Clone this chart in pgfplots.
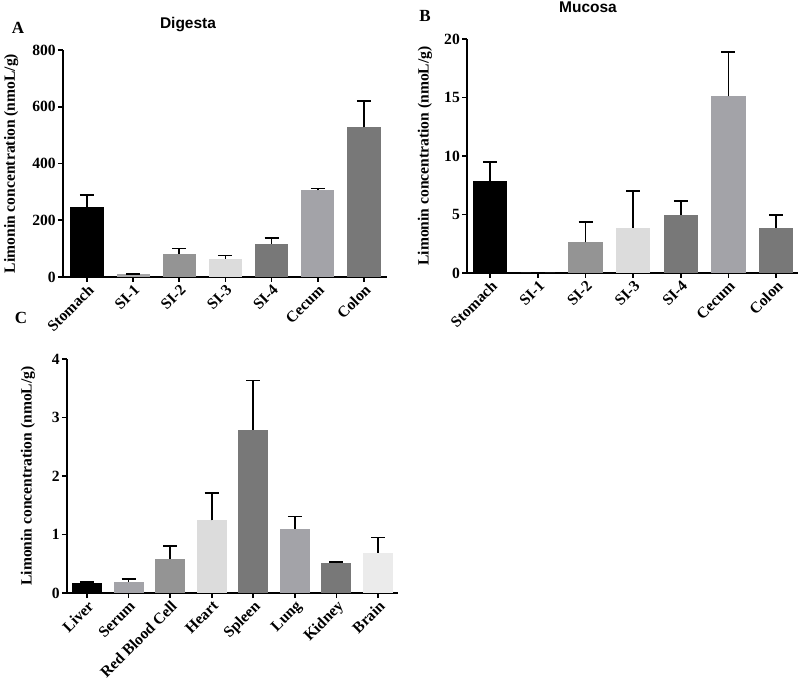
\documentclass[border=0pt]{standalone}
\usepackage{pgfplots}
\pgfplotsset{compat=1.18}
\usepackage{fontspec}
\setmainfont{Liberation Serif}
\newfontfamily\titlefont{Liberation Sans}
\definecolor{cK}{HTML}{000000}
\definecolor{cL}{HTML}{A6A6A8}
\definecolor{cM}{HTML}{949494}
\definecolor{cP}{HTML}{DCDCDC}
\definecolor{cD}{HTML}{787878}
\definecolor{cC}{HTML}{A3A3A8}
\definecolor{cW}{HTML}{EBEBEB}
\newcommand\tf{\fontsize{15.6}{15.6}\selectfont\bfseries}
\pgfplotsset{
  panel/.style={
    scale only axis,
    axis x line*=bottom, axis y line*=left,
    axis line style={line width=1.7pt, -},
    tick align=outside,
    major tick length=5pt,
    every tick/.style={black, line width=1.7pt},
    ymin=0,
    enlargelimits=false,
    clip=false,
    /pgf/number format/assume math mode=true,
    tick label style={font=\tf},
    xticklabel style={rotate=45, anchor=north east, inner sep=1pt},
    yticklabel style={inner sep=2pt},
    ylabel={Limonin concentration (nmoL/g)},
    label style={font=\tf},
    ybar, bar width=0.72,
    error bars/y dir=plus, error bars/y explicit,
    error bars/error bar style={line width=1.7pt, black},
    error bars/error mark options={rotate=90, mark size=7pt, line width=1.7pt, black},
  },
  b/.style={fill=#1, draw=none, bar shift=0pt},
}
\begin{document}
\begin{tikzpicture}[x=1pt,y=1pt]
\useasboundingbox (0,0) rectangle (800,685);
% Panel A
\begin{axis}[panel, at={(63pt,408pt)}, anchor=south west,
  width=324pt, height=227pt,
  xmin=-0.52, xmax=6.5, ymax=800, ytick={0,200,400,600,800},
  xtick={0,...,6},
  xticklabels={Stomach,SI-1,SI-2,SI-3,SI-4,Cecum,Colon},
  ylabel style={at={(axis description cs:-0.16,0.5)}, anchor=center}]
\addplot[b=cK] coordinates {(0,247) +- (0,41)};
\addplot[b=cL] coordinates {(1,9) +- (0,2)};
\addplot[b=cM] coordinates {(2,82) +- (0,18)};
\addplot[b=cP] coordinates {(3,64) +- (0,12)};
\addplot[b=cD] coordinates {(4,118) +- (0,20)};
\addplot[b=cC] coordinates {(5,306) +- (0,6)};
\addplot[b=cD] coordinates {(6,527) +- (0,94)};
\end{axis}
% Panel B
\begin{axis}[panel, at={(467pt,412pt)}, anchor=south west,
  width=331pt, height=234pt,
  xmin=-0.49, xmax=6.46, ymax=20, ytick={0,5,10,15,20},
  xtick={0,...,6},
  xticklabels={Stomach,SI-1,SI-2,SI-3,SI-4,Cecum,Colon},
  ylabel style={at={(axis description cs:-0.127,0.5)}, anchor=center}]
\addplot[b=cK] coordinates {(0,7.83) +- (0,1.66)};
\addplot[b=cL] coordinates {(1,0) +- (0,0)};
\addplot[b=cM] coordinates {(2,2.62) +- (0,1.71)};
\addplot[b=cP] coordinates {(3,3.87) +- (0,3.13)};
\addplot[b=cD] coordinates {(4,4.99) +- (0,1.19)};
\addplot[b=cC] coordinates {(5,15.1) +- (0,3.76)};
\addplot[b=cD] coordinates {(6,3.87) +- (0,1.09)};
\end{axis}
% Panel C
\begin{axis}[panel, at={(67pt,92pt)}, anchor=south west,
  width=331pt, height=234pt,
  xmin=-0.48, xmax=7.48, ymax=4, ytick={0,1,2,3,4},
  xtick={0,...,7},
  xticklabels={Liver,Serum,Red Blood Cell,Heart,Spleen,Lung,Kidney,Brain},
  ylabel style={at={(axis description cs:-0.118,0.5)}, anchor=center}]
\addplot[b=cK] coordinates {(0,0.166) +- (0,0.028)};
\addplot[b=cC] coordinates {(1,0.194) +- (0,0.046)};
\addplot[b=cM] coordinates {(2,0.58) +- (0,0.22)};
\addplot[b=cP] coordinates {(3,1.24) +- (0,0.47)};
\addplot[b=cD] coordinates {(4,2.79) +- (0,0.84)};
\addplot[b=cC] coordinates {(5,1.10) +- (0,0.21)};
\addplot[b=cD] coordinates {(6,0.51) +- (0,0.02)};
\addplot[b=cW] coordinates {(7,0.69) +- (0,0.26)};
\end{axis}
\node[font=\titlefont\bfseries\fontsize{15.5}{15.5}\selectfont] at (188,660) {Digesta};
\node[font=\titlefont\bfseries\fontsize{15.5}{15.5}\selectfont] at (588,678) {Mucosa};
\node[font=\fontsize{17}{17}\selectfont\bfseries] at (18,657) {A};
\node[font=\fontsize{17}{17}\selectfont\bfseries] at (425,669) {B};
\node[font=\fontsize{17}{17}\selectfont\bfseries] at (21,367) {C};
\end{tikzpicture}
\end{document}
